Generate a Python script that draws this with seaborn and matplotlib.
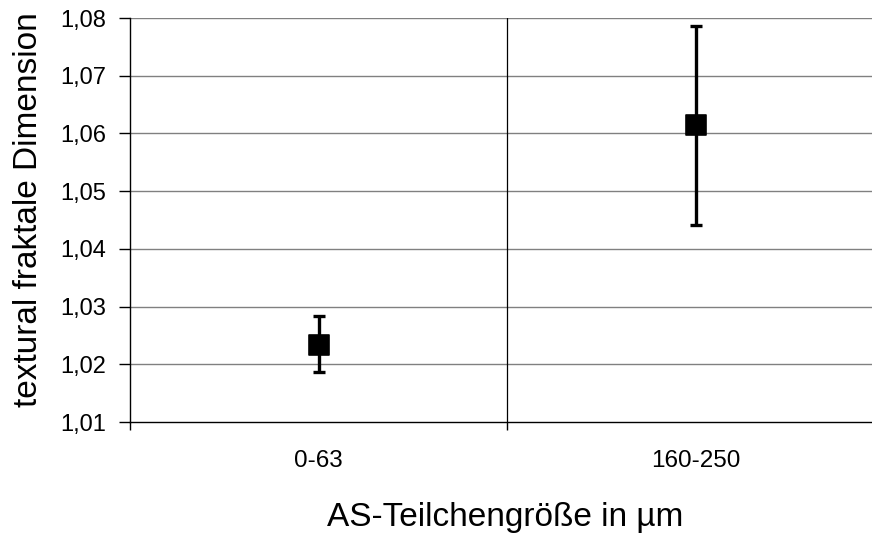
import matplotlib
matplotlib.use("Agg")
import matplotlib.pyplot as plt
import seaborn as sns
import pandas as pd
from matplotlib.ticker import FuncFormatter, FixedLocator

categories = ["0-63", "160-250"]
means = [1.0234, 1.0614]
err_low = [1.0186, 1.0441]
err_high = [1.0283, 1.0786]
yticks = [1.01, 1.02, 1.03, 1.04, 1.05, 1.06, 1.07, 1.08]

sns.set_theme(style="white")
plt.rcParams['font.family'] = ['Liberation Sans', 'DejaVu Sans']

df = pd.DataFrame({"cat": categories, "mean": means})
pos = list(range(len(categories)))

fig = plt.figure(figsize=(8.72, 5.33), dpi=100)
H = 422 - 18
W = 884 - 130
ax = fig.add_axes([130/872, (533-422)/533, W/872, H/533])

ax.errorbar(pos, means,
            yerr=[[m - l for m, l in zip(means, err_low)], [h - m for m, h in zip(means, err_high)]],
            fmt='none', ecolor='black', elinewidth=2.4, capsize=4, capthick=2.4, zorder=3)
sns.scatterplot(data=df.assign(x=pos), x="x", y="mean", marker='s', s=220, color='black',
                edgecolor='black', ax=ax, zorder=4, legend=False)

ax.set_xlim(-0.5, 1.5)
ax.set_ylim(1.01, 1.08)
ax.set_yticks(yticks)
ax.yaxis.set_major_formatter(FuncFormatter(lambda v, p: f"{v:.2f}".replace('.', ',')))
for y in yticks[1:]:
    ax.axhline(y, color='#808080', lw=1.0, zorder=1)
ax.axvline(0.5, color='black', lw=0.9, zorder=1)

ax.xaxis.set_major_locator(FixedLocator([-0.5, 0.5, 1.5]))
ax.xaxis.set_major_formatter(FuncFormatter(lambda v, p: ""))
ax.xaxis.set_minor_locator(FixedLocator(pos))
ax.set_xticklabels(categories, minor=True)
ax.tick_params(axis='x', which='major', direction='out', length=6, width=1, color='black', bottom=True)
ax.tick_params(axis='x', which='minor', length=0, labelsize=17.5, pad=20, colors='black')
ax.tick_params(axis='y', direction='out', length=8, width=1, color='black', left=True, labelsize=17, pad=9, labelcolor='black')

for s in ['top', 'right']:
    ax.spines[s].set_visible(False)
for s in ['left', 'bottom']:
    ax.spines[s].set_color('black')
    ax.spines[s].set_linewidth(1.0)

ax.set_xlabel("AS-Teilchengröße in µm", fontsize=24, color='black')
ax.set_ylabel("textural fraktale Dimension", fontsize=24, color='black')
ax.xaxis.set_label_coords((505-130)/W, -(502-422)/H)
ax.yaxis.set_label_coords(-(130-44)/W, (422-210)/H)

fig.savefig("out.png", dpi=100)
